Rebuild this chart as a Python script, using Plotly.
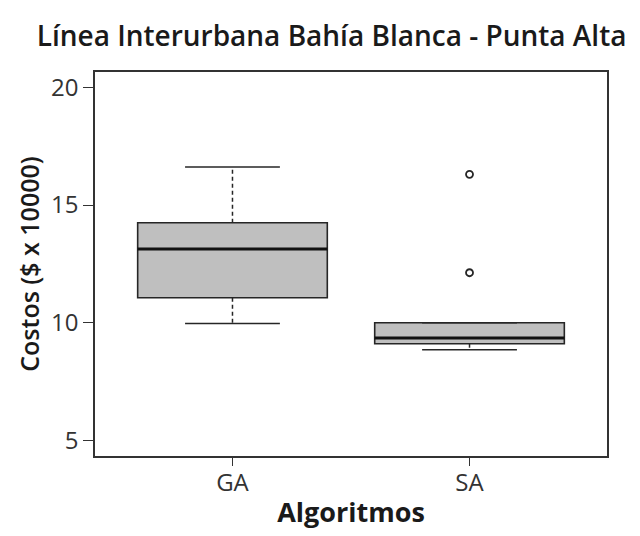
import plotly.graph_objects as go

categories = ["GA", "SA"]
q1 = [11.07, 9.12]
median = [13.14, 9.36]
q3 = [14.25, 10.01]
whisker_low = [9.98, 8.86]
whisker_high = [16.61, 10.01]
outlier_group = ["SA", "SA"]
outlier_values = [16.30, 12.13]

pos = {c: i for i, c in enumerate(categories)}
xs = [pos[c] for c in categories]
box_w = 0.8
cap_half = 0.2
ink = "#262626"

fig = go.Figure()

# dashed whiskers
for i, c in enumerate(categories):
    x = pos[c]
    fig.add_trace(go.Scatter(x=[x, x], y=[q3[i], whisker_high[i]], mode="lines",
                             line=dict(color=ink, width=1.5, dash="4px,3px"), hoverinfo="skip"))
    fig.add_trace(go.Scatter(x=[x, x], y=[q1[i], whisker_low[i]], mode="lines",
                             line=dict(color=ink, width=1.5, dash="4px,3px"), hoverinfo="skip"))
    # caps
    for v in (whisker_low[i], whisker_high[i]):
        fig.add_trace(go.Scatter(x=[x - cap_half, x + cap_half], y=[v, v], mode="lines",
                                 line=dict(color=ink, width=1.5), hoverinfo="skip"))

# boxes
fig.add_trace(go.Box(x=xs, q1=q1, median=median, q3=q3, lowerfence=q1, upperfence=q3,
                     width=box_w, fillcolor="#bfbfbf", line=dict(color=ink, width=1.6),
                     hoverinfo="skip"))

# medians (thick)
for i, c in enumerate(categories):
    x = pos[c]
    fig.add_trace(go.Scatter(x=[x - box_w / 2, x + box_w / 2], y=[median[i], median[i]], mode="lines",
                             line=dict(color="#111111", width=3), hoverinfo="skip"))

# outliers
fig.add_trace(go.Scatter(x=[pos[g] for g in outlier_group], y=outlier_values, mode="markers",
                         marker=dict(symbol="circle-open", size=7, color=ink, line=dict(width=1.8)),
                         hoverinfo="skip"))

font_family = "Open Sans, Lato, sans-serif"
fig.update_layout(
    width=632, height=528,
    margin=dict(l=87, r=33, t=64, b=80),
    paper_bgcolor="white", plot_bgcolor="white",
    showlegend=False,
    boxmode="overlay",
    font=dict(family=font_family, color="#333333"),
    title=dict(text="Línea Interurbana Bahía Blanca - Punta Alta",
               x=0.512, xanchor="center", y=0.947, yanchor="middle", yref="container",
               font=dict(size=28, color="#1a1a1a", family=font_family, weight=600)),
)
fig.update_xaxes(range=[-0.58, 1.58], tickvals=xs, ticktext=categories,
                 ticks="outside", ticklen=8, tickwidth=1.3, tickcolor="#333333",
                 showline=True, linecolor="#333333", linewidth=1.5, mirror=True,
                 showgrid=False, zeroline=False, ticklabelstandoff=-4,
                 tickfont=dict(size=24, color="#333333"),
                 title=dict(text="Algoritmos", font=dict(size=27, color="#1a1a1a", weight=700), standoff=7))
fig.update_yaxes(range=[4.36, 20.64], tickvals=[5, 10, 15, 20],
                 ticks="outside", ticklen=10, tickwidth=1.3, tickcolor="#333333",
                 showline=True, linecolor="#333333", linewidth=1.5, mirror=True,
                 showgrid=False, zeroline=False,
                 tickfont=dict(size=24, color="#333333"),
                 title=dict(text="Costos ($ x 10000)", font=dict(size=25, color="#1a1a1a", weight=600), standoff=4))

fig.write_html("out.html")
